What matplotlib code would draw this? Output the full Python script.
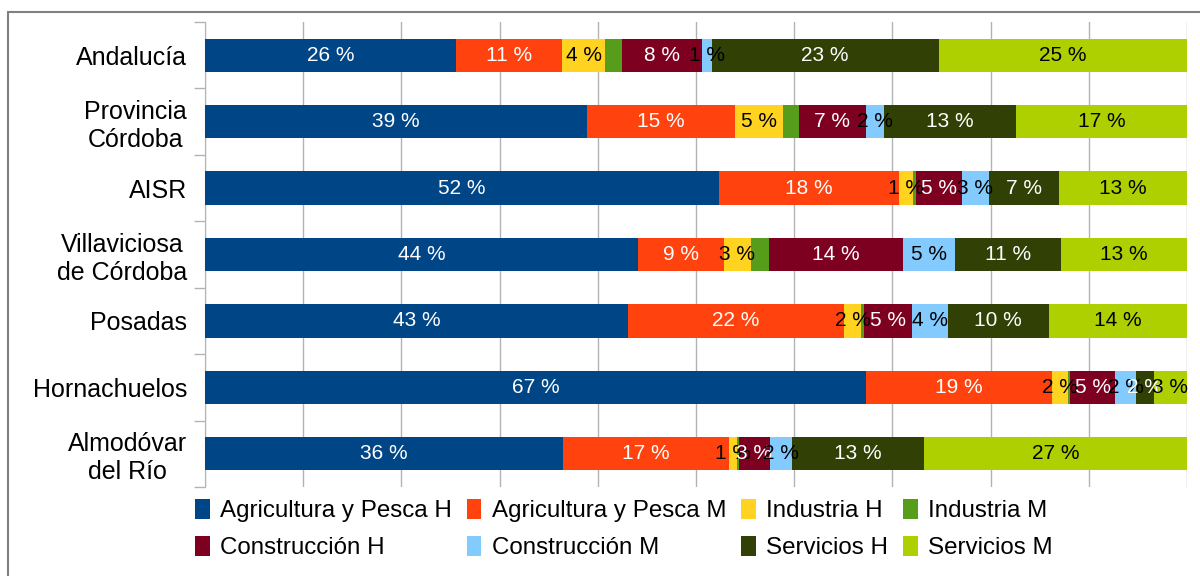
import numpy as np
import matplotlib.pyplot as plt
from matplotlib.patches import Rectangle

plt.rcParams['font.family'] = ['Liberation Sans', 'DejaVu Sans']

regions = ['Andalucía', 'Provincia\nCórdoba', 'AISR', 'Villaviciosa\nde Córdoba',
           'Posadas', 'Hornachuelos', 'Almodóvar\ndel Río']
series = ['Agricultura y Pesca H', 'Agricultura y Pesca M', 'Industria H', 'Industria M',
          'Construcción H', 'Construcción M', 'Servicios H', 'Servicios M']

# share (%) of each group
agri_h = [25.6, 38.9, 52.3, 44.1, 43.1, 67.3, 36.4]
agri_m = [10.8, 15.0, 18.4, 8.7, 22.0, 19.0, 16.9]
ind_h = [4.3, 4.9, 1.4, 2.7, 1.8, 1.6, 0.8]
ind_m = [1.8, 1.6, 0.3, 1.9, 0.3, 0.2, 0.2]
con_h = [8.1, 6.8, 4.7, 13.6, 4.9, 4.6, 3.2]
con_m = [1.0, 1.9, 2.7, 5.3, 3.6, 2.1, 2.2]
ser_h = [23.1, 13.4, 7.2, 10.8, 10.3, 1.8, 13.4]
ser_m = [25.3, 17.4, 13.0, 12.8, 14.1, 3.4, 26.8]

colors = ['#004586', '#ff420e', '#ffd320', '#579d1c', '#7e0021', '#83caff', '#314004', '#aecf00']
text_colors = ['white', 'white', 'black', None, 'white', 'black', 'white', 'black']

data = np.array([agri_h, agri_m, ind_h, ind_m, con_h, con_m, ser_h, ser_m])
data = data / data.sum(axis=0)

fig = plt.figure(figsize=(12, 5.76), dpi=100)
ax = fig.add_axes([205/1200, 1 - 487/576, 982/1200, 465/576])

y = np.arange(len(regions))
left = np.zeros(len(regions))
handles = []
for i in range(len(series)):
    bars = ax.barh(y, data[i], left=left, height=0.5, color=colors[i], label=series[i], zorder=3)
    handles.append(bars)
    if text_colors[i] is not None:
        for j in range(len(regions)):
            ax.text(left[j] + data[i][j] / 2, y[j], '{:.0f} %'.format(data[i][j] * 100),
                    ha='center', va='center', color=text_colors[i], fontsize=15, zorder=4)
    left = left + data[i]

ax.set_xlim(0, 1)
ax.set_ylim(len(regions) - 0.5, -0.5)
ax.set_xticks(np.arange(0, 1.01, 0.1))
ax.tick_params(axis='x', length=0, labelbottom=False)
ax.grid(axis='x', color='#b3b3b3', lw=1, zorder=0)
ax.set_yticks(y)
ax.set_yticklabels(regions, fontsize=18)
for lab in ax.get_yticklabels():
    lab.set_multialignment('center')
ax.set_yticks(np.arange(-0.5, len(regions)), minor=True)
ax.tick_params(axis='y', which='major', length=0, pad=13)
ax.tick_params(axis='y', which='minor', length=8, color='#b3b3b3', width=1)
for s in ['top', 'right', 'bottom']:
    ax.spines[s].set_visible(False)
ax.spines['left'].set_color('#b3b3b3')

order = [0, 4, 1, 5, 2, 6, 3, 7]
fig.legend([handles[k] for k in order], [series[k] for k in order], ncol=4,
           loc='upper left', bbox_to_anchor=(195/1200, 1 - 499/576), frameon=False,
           fontsize=17.4, handlelength=0.6, handleheight=0.9, handletextpad=0.45,
           columnspacing=0.6, labelspacing=0.55, borderpad=0, borderaxespad=0)

fig.patches.append(Rectangle((8/1200, -0.1), 1.1, 1 - 12/576 + 0.1, transform=fig.transFigure,
                             fill=False, edgecolor='#808080', lw=1.5))

fig.savefig('out.png', dpi=100)
